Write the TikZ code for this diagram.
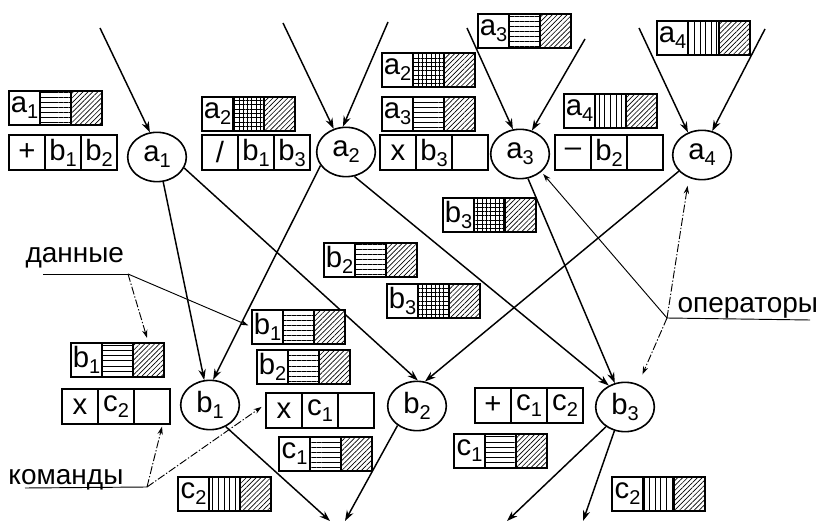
\documentclass[tikz,border=0pt]{standalone}
\usepackage{fontspec}
\setmainfont{Liberation Sans}
\usetikzlibrary{shapes.geometric,arrows.meta,positioning,patterns.meta}

\newcommand{\ix}[1]{\raisebox{-4.5pt}{\fontsize{15}{15}\selectfont #1}}
\newcommand{\lblfont}{\fontsize{22}{24}\selectfont}
\newcommand{\wordfont}{\fontsize{21}{24}\selectfont}

\tikzset{every picture/.style={line width=0.75pt},
  opnode/.style={ellipse, draw, line width=1.2pt, minimum width=44pt, minimum height=37pt, inner sep=0pt, font=\lblfont},
  dcell/.style={draw, line width=0.9pt, minimum width=23.25pt, minimum height=25.5pt, inner sep=0pt, outer sep=0pt, font=\lblfont, fill=white},
  ccell/.style={draw, line width=0.9pt, minimum width=27pt, minimum height=26.25pt, inner sep=0pt, outer sep=0pt, font=\lblfont, fill=white},
  hfill/.style={preaction={fill=white}, pattern={Lines[angle=0,distance=3.8pt,line width=0.6pt]}},
  vfill/.style={preaction={fill=white}, pattern={Lines[angle=90,distance=4.2pt,line width=0.6pt]}},
  gfill/.style={preaction={fill=white}, pattern={Hatch[angle=0,distance=3.2pt,line width=0.6pt]}},
  dfill/.style={preaction={fill=white}, pattern={Lines[angle=45,distance=2.6pt,line width=0.5pt]}},
  flow/.style={line width=1.1pt, -{Stealth[length=8pt,width=5.5pt]}},
  ptr/.style={line width=0.7pt},
  ptrarr/.style={ptr, -{Stealth[length=6pt,width=4pt]}},
  ptrdash/.style={ptrarr, dash pattern=on 6pt off 1.5pt on 1pt off 1.5pt},
  word/.style={font=\wordfont, inner sep=0pt, anchor=base west}
}

% data box: label cell, pattern cell, hatched cell
\newcommand{\dbox}[5]{%
  \node[dcell, anchor=north west] (#1l) at #2 {#3\ix{#4}};
  \node[dcell, #5, right=0pt of #1l] (#1p) {};
  \node[dcell, dfill, right=0pt of #1p] (#1h) {};
}
% command box: operation and two addresses
\newcommand{\cbox}[5]{%
  \node[ccell, anchor=north west] (#1a) at #2 {#3};
  \node[ccell, right=0pt of #1a] (#1b) {#4};
  \node[ccell, right=0pt of #1b] (#1c) {#5};
}

\begin{document}
\begin{tikzpicture}[x=0.75pt,y=0.75pt,yscale=-1,xscale=1]
\useasboundingbox (0,0) rectangle (820,523);

%Shape: Ellipse
\node[opnode] (a1) at (157,157) {a\ix{1}};
\node[opnode] (a2) at (346,152) {a\ix{2}};
\node[opnode] (a3) at (520,154) {a\ix{3}};
\node[opnode] (a4) at (702,155) {a\ix{4}};
\node[opnode] (b1) at (210,405) {b\ix{1}};
\node[opnode] (b2) at (417,406) {b\ix{2}};
\node[opnode] (b3) at (625,407) {b\ix{3}};

%Straight Lines: inputs
\coordinate (in1) at (100,28);
\coordinate (in2) at (283,23);
\coordinate (in3) at (388,22);
\coordinate (in4) at (467,28);
\coordinate (in5) at (585,39);
\coordinate (in6) at (639,28);
\coordinate (in7) at (765,29);
\draw[flow] (in1) -- (a1.106);
\draw[flow] (in2) -- (a2.118);
\draw[flow] (in3) -- (a2.97);
\draw[flow] (in4) -- (a3.106);
\draw[flow] (in5) -- (a3.63);
\draw[flow] (in6) -- (a4.122);
\draw[flow] (in7) -- (a4.67);

%Straight Lines: between operators
\draw[flow] (a1.284) -- (b1.103);
\draw[flow] (a1.338) -- (b2.88);
\draw[flow] (a2.208) -- (b1.83);
\draw[flow] (a2.289) -- (b3.127);
\draw[flow] (a3.288) -- (b3.113);
\draw[flow] (a4.215) -- (b2.72);

%Straight Lines: outputs
\coordinate (out1) at (330,521);
\coordinate (out2) at (345,521);
\coordinate (out3) at (507,521);
\coordinate (out4) at (583,521);
\draw[flow] (b1.306) -- (out1);
\draw[flow] (b2.225) -- (out2);
\draw[flow] (b3.226) -- (out3);
\draw[flow] (b3.246) -- (out4);

%Shape: data boxes
\dbox{dA1}{(9,91)}{a}{1}{hfill}
\dbox{dA2}{(202,97)}{a}{2}{gfill}
\dbox{dA2b}{(382,53)}{a}{2}{gfill}
\dbox{dA3}{(382,97)}{a}{3}{hfill}
\dbox{dA3b}{(478,14)}{a}{3}{hfill}
\dbox{dA4}{(564,94)}{a}{4}{vfill}
\dbox{dA4b}{(657,21)}{a}{4}{vfill}
\dbox{dB3}{(443,198)}{b}{3}{gfill}
\dbox{dB2}{(324,243)}{b}{2}{hfill}
\dbox{dB3b}{(387,284)}{b}{3}{gfill}
\dbox{dB1}{(252,310)}{b}{1}{hfill}
\dbox{dB2b}{(257,350)}{b}{2}{hfill}
\dbox{dB1b}{(71,343)}{b}{1}{hfill}
\dbox{dC1}{(279,437)}{c}{1}{hfill}
\dbox{dC2}{(178,477)}{c}{2}{vfill}
\dbox{dC1b}{(454,434)}{c}{1}{hfill}
\dbox{dC2b}{(612,477)}{c}{2}{vfill}

%Shape: command boxes
\cbox{cA1}{(9,135)}{+}{b\ix{1}}{b\ix{2}}
\cbox{cA2}{(202,135)}{/}{b\ix{1}}{b\ix{3}}
\cbox{cA3}{(380,135)}{x}{b\ix{3}}{}
\cbox{cA4}{(555,135)}{--}{b\ix{2}}{}
\cbox{cB1}{(62,389)}{x}{c\ix{2}}{}
\cbox{cB2}{(266,393)}{x}{c\ix{1}}{}
\cbox{cB3}{(475,388)}{+}{c\ix{1}}{c\ix{2}}

% Text Node
\node[word] (dan) at (25,263) {данные};
\node[word] (kom) at (8,484) {команды};
\node[word] (oper) at (677,313) {операторы};

%Straight Lines: pointers
\coordinate (danL) at (43,274);
\coordinate (danR) at (128,274);
\draw[ptr] (danL) -- (danR);
\draw[ptrarr, shorten >=3pt] (danR) -- (dB1l.west);
\draw[ptrdash, shorten >=4pt] (danR) -- (dB1bh.north);

\coordinate (komL) at (25,488);
\coordinate (komR) at (147,487);
\draw[ptr] (komL) -- (komR);
\draw[ptrdash, shorten >=2pt] (komR) -- ([xshift=8pt]cB1c.south);
\draw[ptrdash, shorten >=4pt] (komR) -- ([yshift=-5pt]cB2a.west);

\coordinate (opL) at (667,318);
\coordinate (opR) at (810,320);
\draw[ptr] (opL) -- (opR);
\draw[ptrarr, shorten >=2pt] (opL) -- (a3.320);
\draw[ptrdash, shorten >=6pt] (opL) -- (a4.240);
\draw[ptrdash, shorten >=8pt] (opL) -- (b3.60);

\end{tikzpicture}
\end{document}
